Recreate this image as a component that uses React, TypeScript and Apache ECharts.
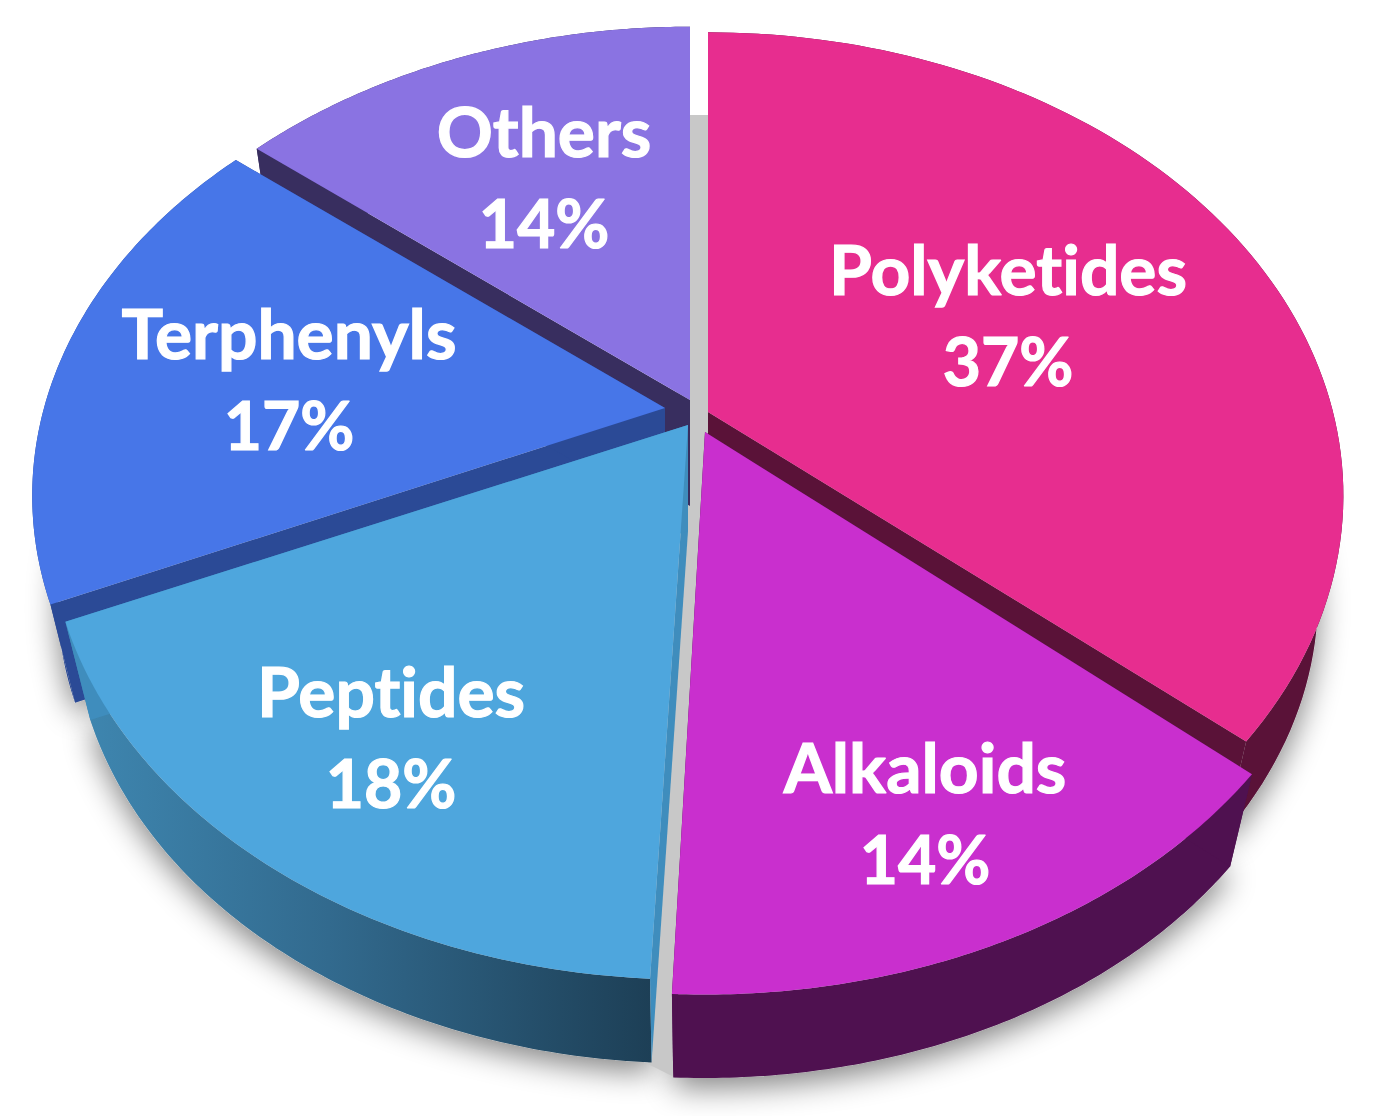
import React, { useEffect, useRef } from "react";
import * as echarts from "echarts";

// ---- data ----
const categories = ["Polyketides", "Alkaloids", "Peptides", "Terphenyls", "Others"];
const percents = [37, 14, 18, 17, 14];

// ---- styling of each slice (same order as the data) ----
const topColors = ["#e72d8f", "#c92fce", "#4ea6dd", "#4776e8", "#8a73e2"];
const wallColors = ["#5a1238", "#4f1150", "#2d5a7c", "#2b4a96", "#382e5f"];
const cutColors = ["#5a1238", "#4f1150", "#3f8dbd", "#2b4a96", "#382e5f"];
const apexes = [[708, 412], [705, 432], [688, 425], [665, 408], [690, 400]];
const radiiX = [625, 632, 628, 621, 628];
const radiiY = [448, 450, 448, 440, 445];
const perspective = [0.18, 0.2, 0.192, 0.192, 0.192];
// small corrections of the hand-drawn picture's slice edges, degrees
const startNudge = [0, -1.9, -0.8, -2.7, -0.3];
const endNudge = [-2.7, -1.2, -2.3, -0.4, 0];
const labelCentres = [[1008, 316], [925, 814], [391, 738], [289, 380], [544, 178]];
const paintRank = [2, 5, 4, 3, 1];
const depth = 106;
const shrink = 0.96;
const gapStrip = [[689, 115], [709, 115], [709, 430], [676, 1078], [648, 1064]];

const cumulative: number[] = [];
percents.reduce((sum, p, i) => {
  cumulative[i] = sum;
  return sum + p;
}, 0);
const total = percents.reduce((a, b) => a + b, 0);

function arcPoints(i: number, value: number): number[][] {
  const start = (cumulative[i] / total) * 360 + startNudge[i];
  const end = ((cumulative[i] + value) / total) * 360 + endNudge[i];
  const [cx, cy] = apexes[i];
  const pts: number[][] = [];
  const n = 96;
  for (let s = 0; s <= n; s++) {
    const a = ((start + ((end - start) * s) / n) * Math.PI) / 180;
    const u = Math.sin(a);
    const v = -Math.cos(a);
    const w = 1 - perspective[i] * v;
    pts.push([cx + (radiiX[i] * u) / w, cy + (radiiY[i] * v) / w]);
  }
  return pts;
}

function lower(i: number, p: number[]): number[] {
  const [cx, cy] = apexes[i];
  return [cx + (p[0] - cx) * shrink, cy + (p[1] - cy) * shrink + depth];
}

function labelText(text: string, x: number, y: number, size: number) {
  return {
    type: "text",
    z2: 100,
    x,
    y,
    style: {
      text,
      fill: "#ffffff",
      stroke: "#ffffff",
      lineWidth: 1.2,
      font: `700 ${size}px Lato, "Open Sans", sans-serif`,
      align: "center",
      verticalAlign: "middle",
    },
  };
}

function renderSlice(params: any, api: any) {
  const i = params.dataIndex;
  const value = api.value(0);
  const arc = arcPoints(i, value);
  const apex = apexes[i];
  const lowApex = lower(i, apex);
  const lowArc = arc.map((p) => lower(i, p));
  const first = arc[0];
  const last = arc[arc.length - 1];
  const rank = paintRank[i] * 10;
  const wall = [...arc, ...lowArc.slice().reverse()];
  const wallFill =
    i === 2
      ? new echarts.graphic.LinearGradient(0, 0, 1, 0, [
          { offset: 0, color: "#3f88b2" },
          { offset: 0.45, color: "#326a8e" },
          { offset: 1, color: "#1d3f56" },
        ])
      : wallColors[i];
  const children: any[] = [];
  if (i !== 4) {
    children.push({
      type: "polygon",
      z2: 1,
      shape: { points: [lowApex, ...lowArc] },
      style: {
        fill: "#c8c8c8",
        shadowColor: "rgba(0,0,0,0.48)",
        shadowBlur: 30,
        shadowOffsetX: 0,
        shadowOffsetY: 10,
      },
    });
  } else {
    children.push({
      type: "polygon",
      z2: 5,
      shape: { points: gapStrip },
      style: { fill: "#c8c8c8" },
    });
  }
  const [lx, ly] = labelCentres[i];
  children.push(
    { type: "polygon", z2: rank + 1, shape: { points: wall }, style: { fill: wallFill } },
    {
      type: "polygon",
      z2: rank + 2,
      shape: { points: [apex, first, lower(i, first), lowApex] },
      style: { fill: cutColors[i] },
    },
    {
      type: "polygon",
      z2: rank + 2,
      shape: { points: [apex, last, lower(i, last), lowApex] },
      style: { fill: cutColors[i] },
    },
    { type: "polygon", z2: rank + 3, shape: { points: [apex, ...arc] }, style: { fill: topColors[i] } },
    labelText(categories[i], lx, ly - 48, 69.5),
    labelText(`${value}%`, lx, ly + 44, 66),
  );
  return { type: "group", children };
}

export default function App() {
  const ref = useRef<HTMLDivElement>(null);
  useEffect(() => {
    if (!ref.current) return;
    const chart = echarts.init(ref.current, undefined, { renderer: "svg" });
    chart.setOption({
      animation: false,
      backgroundColor: "#ffffff",
      series: [
        {
          type: "custom",
          coordinateSystem: "none",
          z: 2,
          renderItem: renderSlice,
          data: percents.map((p, i) => ({ name: categories[i], value: [p] })),
        },
      ],
    });
    return () => chart.dispose();
  }, []);
  return (
    <>
      <style>{"svg text { font-variant-ligatures: none !important; }"}</style>
      <div ref={ref} style={{ position: "absolute", left: 0, top: 0, width: 1376, height: 1116 }} />
    </>
  );
}
